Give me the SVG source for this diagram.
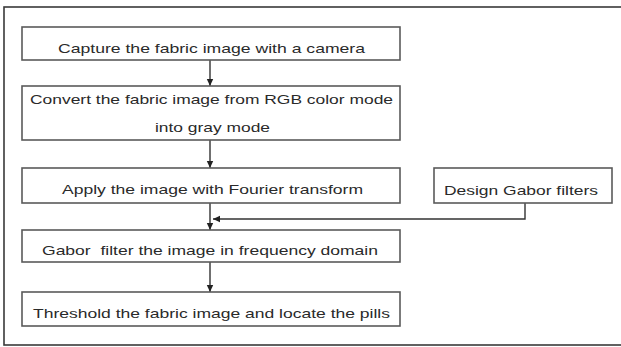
<svg xmlns="http://www.w3.org/2000/svg" width="621" height="347" viewBox="0 0 621 347">
<style>
.frame{fill:none;stroke:#3a3a3a;stroke-width:1.6}
.box{fill:#fff;stroke:#5a5a5a;stroke-width:1.6}
.lbl{font-family:"Liberation Sans",Arial,sans-serif;font-size:13px;fill:#2a2a2a;text-anchor:middle}
.conn{fill:none;stroke:#333;stroke-width:1.4}
</style>
<defs>
<marker id="arr" markerWidth="8" markerHeight="8" refX="7" refY="4" orient="auto" markerUnits="userSpaceOnUse">
<path d="M0,0.8 L7,4 L0,7.2 Z" fill="#222"/>
</marker>
</defs>
<rect class="frame" x="4" y="7" width="625" height="338"/>
<g id="connectors">
<line class="conn" x1="210" y1="60" x2="210" y2="86" marker-end="url(#arr)"/>
<line class="conn" x1="210" y1="140" x2="210" y2="168" marker-end="url(#arr)"/>
<line class="conn" x1="210" y1="203" x2="210" y2="230" marker-end="url(#arr)"/>
<polyline class="conn" points="525,203 525,219 213,219" marker-end="url(#arr)"/>
<line class="conn" x1="210" y1="262" x2="210" y2="292" marker-end="url(#arr)"/>
</g>
<g id="n1">
<rect class="box" x="22" y="27" width="378" height="33"/>
<text class="lbl" x="211.5" y="53" textLength="307" lengthAdjust="spacingAndGlyphs">Capture the fabric image with a camera</text>
</g>
<g id="n2">
<rect class="box" x="22" y="86" width="378" height="54"/>
<text class="lbl" x="211.5" y="104" textLength="363" lengthAdjust="spacingAndGlyphs">Convert the fabric image from RGB color mode</text>
<text class="lbl" x="212.5" y="132" textLength="115" lengthAdjust="spacingAndGlyphs">into gray mode</text>
</g>
<g id="n3">
<rect class="box" x="22" y="168" width="378" height="35"/>
<text class="lbl" x="212.5" y="194" textLength="301" lengthAdjust="spacingAndGlyphs">Apply the image with Fourier transform</text>
</g>
<g id="n_design">
<rect class="box" x="434" y="168" width="178" height="35"/>
<text class="lbl" x="521" y="195" textLength="154" lengthAdjust="spacingAndGlyphs">Design Gabor filters</text>
</g>
<g id="n4">
<rect class="box" x="22" y="230" width="378" height="32"/>
<text class="lbl" x="210" y="255" textLength="336" lengthAdjust="spacingAndGlyphs" xml:space="preserve">Gabor  filter the image in frequency domain</text>
</g>
<g id="n5">
<rect class="box" x="22" y="292" width="378" height="34"/>
<text class="lbl" x="211.5" y="318" textLength="357" lengthAdjust="spacingAndGlyphs">Threshold the fabric image and locate the pills</text>
</g>
</svg>
